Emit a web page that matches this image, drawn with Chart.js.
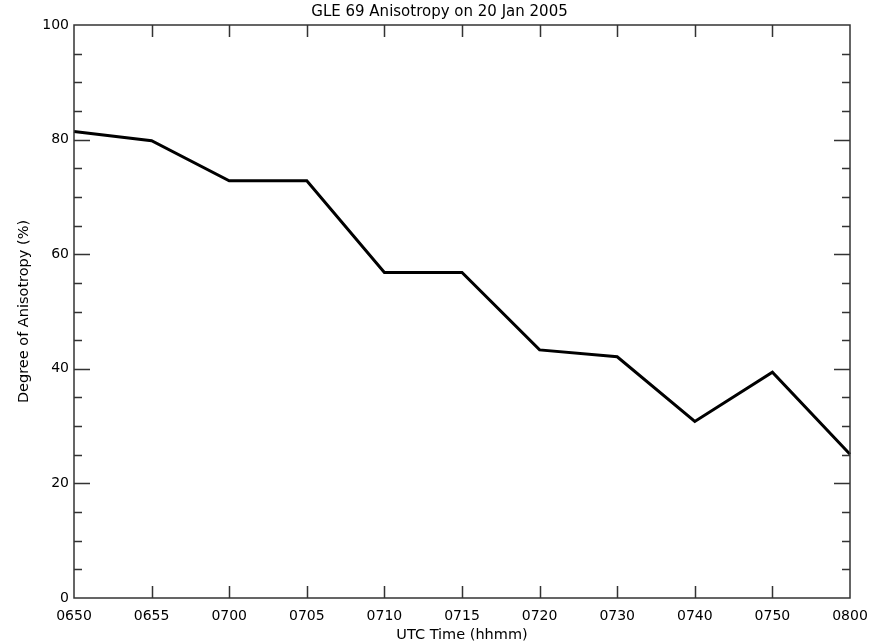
<!DOCTYPE html>
<html>
<head>
<meta charset="utf-8">
<script src="https://cdn.jsdelivr.net/npm/chart.js@4/dist/chart.umd.min.js"></script>
<style>
  html, body { margin: 0; padding: 0; background: #fff; }
  #wrap { width: 879px; height: 642px; }
</style>
</head>
<body>
<div id="wrap"><canvas id="myChart"></canvas></div>
<script>
// time labels along the bottom (hhmm)
const timeLabels = ["0650", "0655", "0700", "0705", "0710", "0715", "0720", "0730", "0740", "0750", "0800"];
// degree of anisotropy
const anisotropy = [81.4, 79.8, 72.8, 72.8, 56.8, 56.8, 43.3, 42.1, 30.8, 39.4, 25.1];
// y axis range and ticks
const yMin = 0;
const yMax = 100;
const yMajorStep = 20;
const yMinorStep = 5;

const chartTitle = "GLE 69 Anisotropy on 20 Jan 2005";
const textFont = "'DejaVu Sans', sans-serif";

// draws the title, the box round the plot and inward pointing ticks on all four sides
const frameTicks = {
    id: "frameTicks",
    afterDraw(chart) {
        const ctx = chart.ctx;
        const area = chart.chartArea;
        const xs = chart.scales.x;
        const ys = chart.scales.y;
        ctx.save();

        // title centred on the whole page
        ctx.fillStyle = "#000";
        ctx.font = "15px " + textFont;
        ctx.textAlign = "center";
        ctx.textBaseline = "middle";
        ctx.fillText(chartTitle, chart.width / 2, 12);

        ctx.strokeStyle = "#333";
        ctx.lineWidth = 1.5;
        ctx.strokeRect(area.left, area.top, area.right - area.left, area.bottom - area.top);

        ctx.beginPath();
        // x ticks, bottom and top
        for (let i = 1; i < timeLabels.length - 1; i++) {
            const px = Math.round(xs.getPixelForValue(i)) + 0.5;
            ctx.moveTo(px, area.bottom);
            ctx.lineTo(px, area.bottom - 12);
            ctx.moveTo(px, area.top);
            ctx.lineTo(px, area.top + 12);
        }
        // y ticks, left and right (major every 20, minor every 5)
        for (let v = yMin + yMinorStep; v < yMax; v += yMinorStep) {
            const py = Math.round(ys.getPixelForValue(v)) + 0.5;
            const len = v % yMajorStep === 0 ? 16 : 8;
            ctx.moveTo(area.left, py);
            ctx.lineTo(area.left + len, py);
            ctx.moveTo(area.right, py);
            ctx.lineTo(area.right - len, py);
        }
        ctx.stroke();
        ctx.restore();
    }
};

const data = {
    labels: timeLabels,
    datasets: [
        {
            label: "Anisotropy",
            data: anisotropy,
            borderColor: "#000",
            backgroundColor: "#000",
            borderWidth: 3,
            pointRadius: 0,
            tension: 0,
            fill: false,
        },
    ],
};

const config = {
    type: "line",
    data,
    options: {
        responsive: true,
        maintainAspectRatio: false,
        animation: false,
        layout: { padding: { top: 25, right: 29, bottom: 0, left: 0 } },
        plugins: {
            legend: { display: false },
            tooltip: { enabled: false },
            title: { display: false },
        },
        scales: {
            x: {
                type: "category",
                offset: false,
                grid: { display: false, drawTicks: false },
                border: { display: false },
                ticks: {
                    color: "#000",
                    font: { family: textFont, size: 14 },
                    padding: 10,
                    maxRotation: 0,
                    autoSkip: false,
                },
                title: {
                    display: true,
                    text: "UTC Time (hhmm)",
                    color: "#000",
                    font: { family: textFont, size: 14.5 },
                    padding: { top: 0, bottom: -2 },
                },
                afterFit(scale) { scale.height = 44; },
            },
            y: {
                min: yMin,
                max: yMax,
                grid: { display: false, drawTicks: false },
                border: { display: false },
                ticks: {
                    stepSize: yMajorStep,
                    color: "#000",
                    font: { family: textFont, size: 14 },
                    padding: 5,
                },
                title: {
                    display: true,
                    text: "Degree of Anisotropy (%)",
                    color: "#000",
                    font: { family: textFont, size: 14.5 },
                    padding: { top: 16, bottom: 0 },
                },
                afterFit(scale) { scale.width = 74; },
            },
        },
    },
    plugins: [frameTicks],
};

var myChart = new Chart(document.getElementById("myChart"), config);
</script>
</body>
</html>
